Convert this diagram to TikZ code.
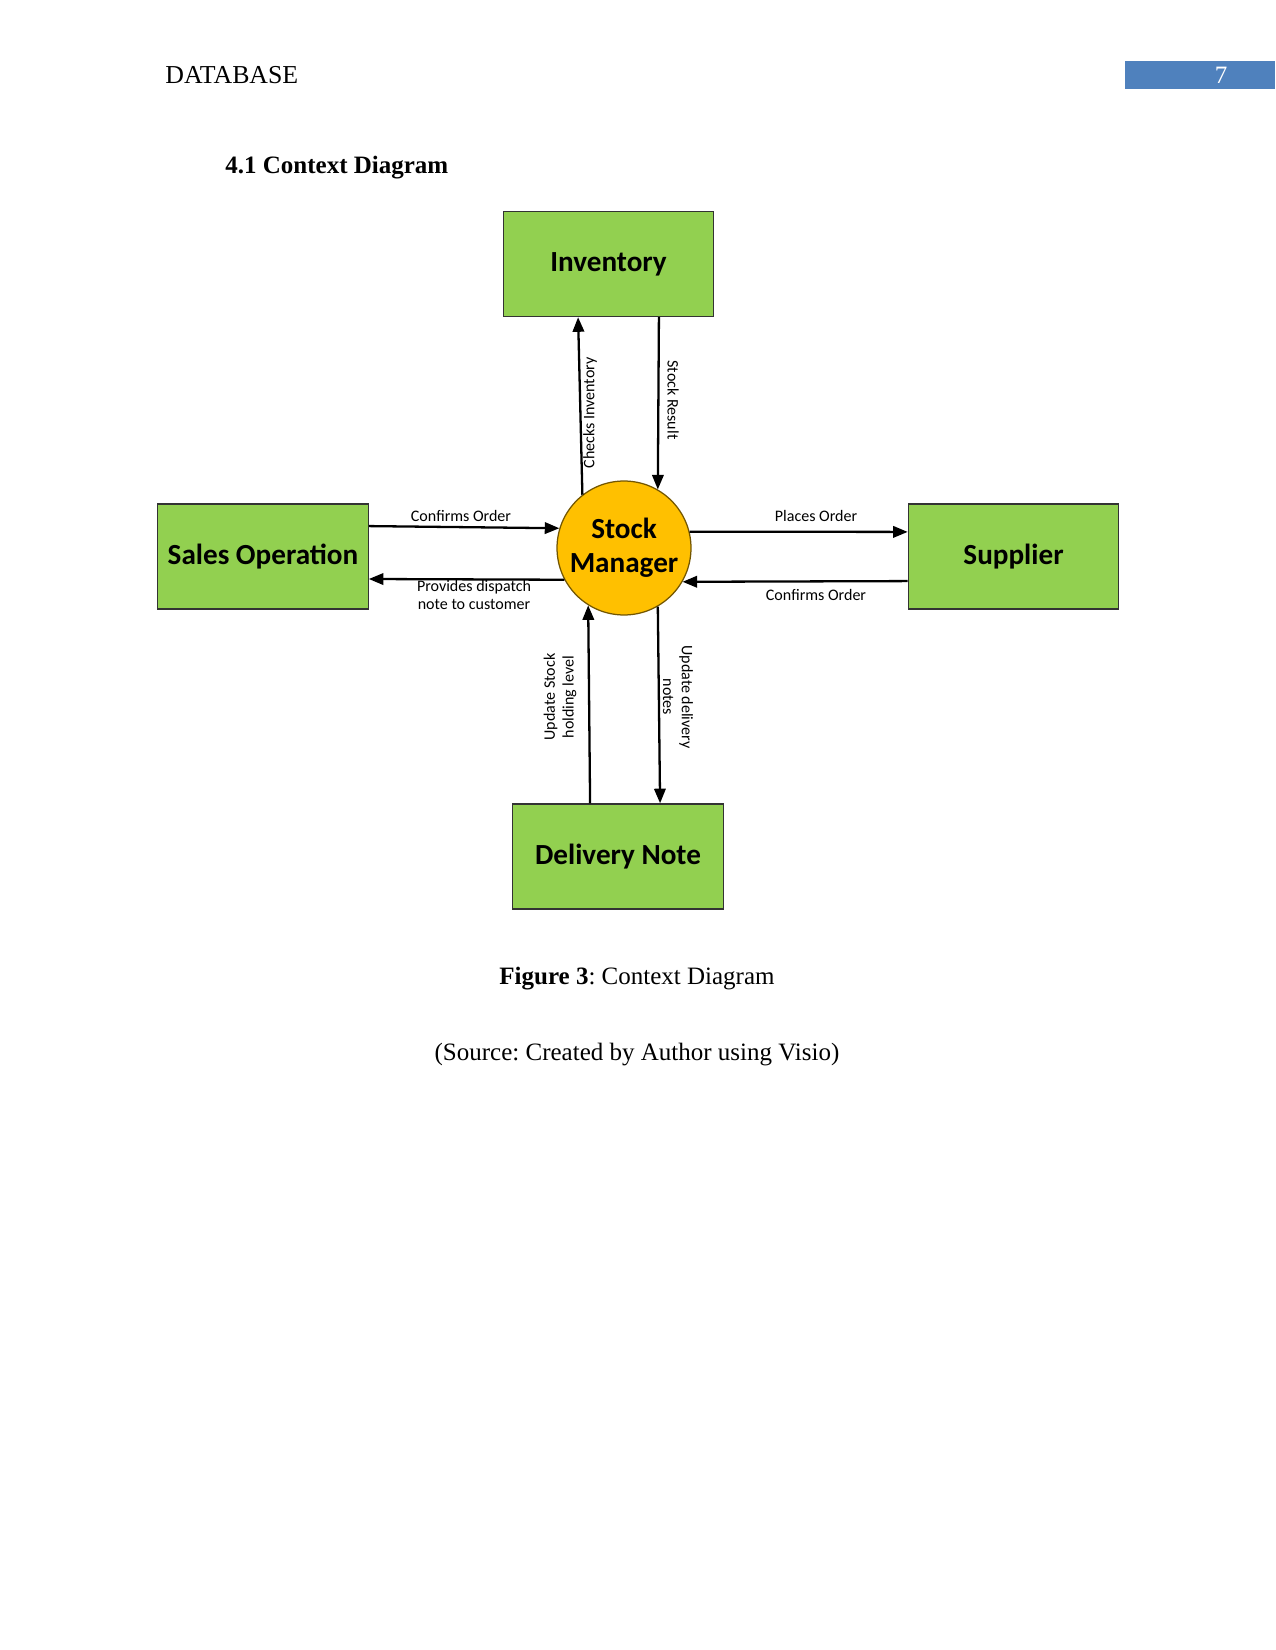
\documentclass[tikz,border=0pt]{standalone}
\usepackage{fontspec}
\setmainfont{Liberation Serif}
\newfontfamily\calib{Carlito}
\usetikzlibrary{arrows.meta}
\definecolor{boxgreen}{HTML}{92D050}
\definecolor{sunny}{HTML}{FFC000}
\definecolor{hdrblue}{HTML}{4F81BD}
\frenchspacing
\tikzset{
  entity/.style={draw=black!80, line width=0.6pt, fill=boxgreen, minimum width=101pt, minimum height=50.5pt, inner sep=0pt, font=\calib\fontsize{14}{16}\selectfont\bfseries},
  proc/.style={circle, draw=black!55!sunny, line width=0.6pt, fill=sunny, minimum size=64.3pt, inner sep=0pt, align=center, font=\calib\fontsize{14}{16.5}\selectfont\bfseries},
  flow/.style={line width=1.1pt, -{Triangle[length=7pt,width=5.5pt]}},
  lbl/.style={font=\calib\fontsize{7.7}{9}\selectfont, align=center, inner sep=0pt},
  pagetext/.style={font=\fontsize{12}{14}\selectfont, inner sep=0pt}
}
\begin{document}
\begin{tikzpicture}[x=0.48pt,y=-0.48pt]
\useasboundingbox (0,0) rectangle (1275,1650);
% header
\node[pagetext, anchor=west, font=\fontsize{12.4}{14}\selectfont] (hdr) at (165,75) {DATABASE};
\node[fill=hdrblue, minimum width=72pt, minimum height=13.4pt, inner sep=0pt, anchor=north west] (pgbox) at (1125,61) {};
\node[pagetext, text=white] (pgno) at (1221,75) {7};
\node[pagetext, anchor=west, font=\fontsize{12}{14}\selectfont\bfseries] (sec) at (225,168) {4.1 Context Diagram};
% entities
\node[entity] (inv) at (608.5,264) {Inventory};
\node[entity] (sales) at (263,556.5) {Sales Operation};
\node[entity] (sup) at (1013.5,556.5) {Supplier};
\node[entity] (del) at (618,856.5) {Delivery Note};
\node[proc] (sm) at (624,548) {Stock\\Manager};
% flows
\draw[flow] (sm.128) -- ([xshift=-14.6pt]inv.south);
\draw[flow] ([xshift=24.2pt]inv.south) -- (sm.60);
\draw[flow] ([yshift=14.6pt]sales.east) -- (sm.163);
\draw[flow] (sm.208) -- ([yshift=-10.8pt]sales.east);
\draw[flow] (sm.14) -- ([yshift=11.8pt]sup.west);
\draw[flow] ([yshift=-11.8pt]sup.west) -- (sm.-30);
\draw[flow] ([xshift=-13.4pt]del.north) -- (sm.238);
\draw[flow] (sm.-60) -- ([xshift=20.2pt]del.north);
% labels
\node[lbl, rotate=90] (l1) at (590,413) {Checks Inventory};
\node[lbl, rotate=-90] (l2) at (673,400) {Stock Result};
\node[lbl] (l3) at (461,516) {Confirms Order};
\node[lbl] (l4) at (474,595) {Provides dispatch\\note to customer};
\node[lbl] (l5) at (816,516) {Places Order};
\node[lbl] (l6) at (816,595) {Confirms Order};
\node[lbl, rotate=90] (l7) at (560,697) {Update Stock\\holding level};
\node[lbl, rotate=-90] (l8) at (678,697) {Update delivery\\notes};
% captions
\node[pagetext] (cap) at (637,979) {\textbf{Figure 3}: Context Diagram};
\node[pagetext] (src) at (637,1055) {(Source: Created by Author using Visio)};
\end{tikzpicture}
\end{document}
